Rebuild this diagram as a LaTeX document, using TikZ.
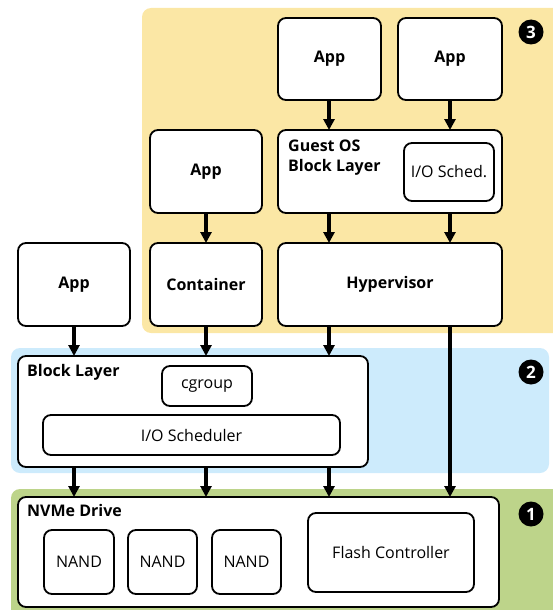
\documentclass[tikz,border=0pt]{standalone}
\usepackage{fontspec}
\setmainfont{Open Sans}
\usetikzlibrary{arrows.meta}
\definecolor{vmyellow}{HTML}{FBE7A5}
\definecolor{hostblue}{HTML}{CDEBFC}
\definecolor{drivegreen}{HTML}{BDD48A}
\tikzset{
  region/.style={rounded corners=9pt, draw=none},
  blk/.style={draw=black, line width=1.8pt, fill=white, rounded corners=8pt},
  lbl/.style={font=\fontsize{16}{20}\selectfont\bfseries},
  txt/.style={font=\fontsize{16}{19}\selectfont},
  badge/.style={circle, fill=black, text=white, inner sep=0pt, minimum size=25pt,
                font=\fontsize{17}{17}\selectfont\bfseries},
  io/.style={line width=3.2pt, -{Triangle[length=11pt,width=11pt]}},
}
\begin{document}
\begin{tikzpicture}[x=1pt,y=-1pt]
\useasboundingbox (0,0) rectangle (553,610);

% layer backgrounds
\fill[region, vmyellow]   (142,8)   rectangle (562,333);
\fill[region, hostblue]   (11,348)  rectangle (549,473);
\fill[region, drivegreen] (11,489)  rectangle (562,620);

% layer numbers
\node[badge] (n3) at (531,32)  {3};
\node[badge] (n2) at (531,372) {2};
\node[badge] (n1) at (531,514) {1};

% virtual machine layer
\draw[blk] (278,18)  rectangle node[lbl] (app1) {App} (381,100);
\draw[blk] (398,18)  rectangle node[lbl] (app2) {App} (502,100);
\draw[blk] (278,130) rectangle (502,213);
\node[lbl, anchor=north west, align=left, inner sep=0pt] (guestlbl) at (288,140) {Guest OS\\Block Layer};
\draw[blk] (404,143) rectangle node[txt] (sched) {I/O Sched.} (494,201);
\draw[blk] (150,130) rectangle node[lbl] (appc) {App} (262,213);
\draw[blk] (150,243) rectangle node[lbl] (cont) {Container} (262,326);
\draw[blk] (278,243) rectangle node[lbl] (hyp) {Hypervisor} (502,326);

% host layer
\draw[blk] (18,243) rectangle node[lbl] (apph) {App} (130,326);
\draw[blk] (18,356) rectangle (368,467);
\node[lbl, anchor=north west, inner sep=0pt] (blklbl) at (27,364) {Block Layer};
\draw[blk] (162,366) rectangle node[txt] (cg) {cgroup} (252,406);
\draw[blk] (43,415)  rectangle node[txt] (iosched) {I/O Scheduler} (340,455);

% drive layer
\draw[blk] (18,497) rectangle (499,607);
\node[lbl, anchor=north west, inner sep=0pt] (nvmelbl) at (27,504) {NVMe Drive};
\draw[blk] (44,530)  rectangle node[txt] (nand1) {NAND} (114,594);
\draw[blk] (128,530) rectangle node[txt] (nand2) {NAND} (197,594);
\draw[blk] (212,530) rectangle node[txt] (nand3) {NAND} (281,594);
\draw[blk] (308,513) rectangle node[txt] (fc) {Flash Controller} (474,592);

% named attachment points on the box borders
\coordinate (a1b) at (329,100); \coordinate (g1t) at (329,130);
\coordinate (a2b) at (450,100); \coordinate (g2t) at (450,130);
\coordinate (g1b) at (329,213); \coordinate (h1t) at (329,243);
\coordinate (g2b) at (450,213); \coordinate (h2t) at (450,243);
\coordinate (acb) at (206,213); \coordinate (ct)  at (206,243);
\coordinate (ahb) at (74,326);  \coordinate (b1t) at (74,356);
\coordinate (cb)  at (206,326); \coordinate (b2t) at (206,356);
\coordinate (h1b) at (329,326); \coordinate (b3t) at (329,356);
\coordinate (h2b) at (450,326); \coordinate (d4t) at (450,497);
\coordinate (b1b) at (74,467);  \coordinate (d1t) at (74,497);
\coordinate (b2b) at (206,467); \coordinate (d2t) at (206,497);
\coordinate (b3b) at (329,467); \coordinate (d3t) at (329,497);

% I/O paths
\draw[io] (a1b) -- (g1t);
\draw[io] (a2b) -- (g2t);
\draw[io] (g1b) -- (h1t);
\draw[io] (g2b) -- (h2t);
\draw[io] (acb) -- (ct);
\draw[io] (ahb) -- (b1t);
\draw[io] (cb)  -- (b2t);
\draw[io] (h1b) -- (b3t);
\draw[io] (h2b) -- (d4t);
\draw[io] (b1b) -- (d1t);
\draw[io] (b2b) -- (d2t);
\draw[io] (b3b) -- (d3t);
\end{tikzpicture}
\end{document}
